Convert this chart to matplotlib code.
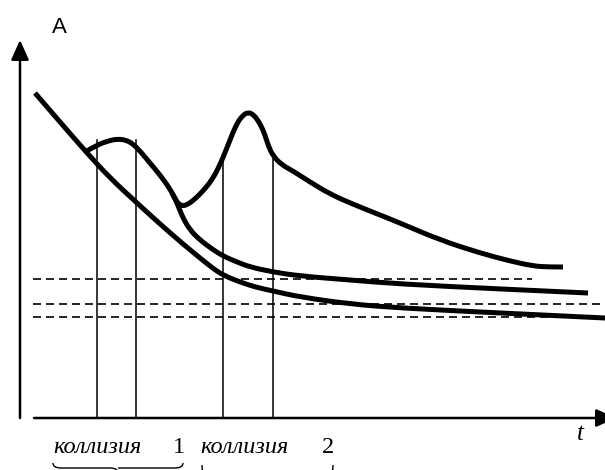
import matplotlib
matplotlib.use('Agg')
import matplotlib.pyplot as plt
from matplotlib.path import Path
from matplotlib.patches import PathPatch

# Lower curve (background decay)
t_low = [15, 40, 67, 90, 117, 140, 163, 180, 195, 205, 220, 235, 253, 280, 330, 380, 480, 585]
a_low = [325, 296, 265, 240, 215, 194, 174, 160, 148, 142, 136, 131, 127, 121, 114, 110, 105, 100]

# Middle curve (collision 1 bump, then decay)
t_mid = [65, 77, 88, 97, 106, 113, 120, 130, 140, 148, 154, 159, 163, 170, 180, 192, 203, 217, 230,
         253, 280, 330, 380, 480, 568]
a_mid = [266, 273, 277, 279, 278, 274, 267, 255, 243, 232, 222, 210, 200, 188, 178, 169, 162, 156, 151,
         146, 142, 138, 134, 129, 125]

# Upper curve (collision 2 peak)
t_up = [152, 156, 161, 167, 175, 183, 192, 200, 208, 216, 222, 228, 234, 239, 244, 248, 253, 262, 273,
        290, 310, 330, 355, 380, 420, 460, 490, 513, 528, 543]
a_up = [225, 217, 212, 213, 219, 227, 238, 253, 273, 293, 302, 306, 303, 296, 286, 273, 262, 253, 247,
        236, 224, 215, 205, 195, 178, 165, 157, 152, 151, 151]

# Collision boundaries
t_marks = [77, 116, 203, 253]
a_marks = [278, 278, 263, 261]

# Dashed levels
levels = [139, 114, 101]
level_end = [512, 585, 585]

fig = plt.figure(figsize=(6.05, 4.70), dpi=100)
ax = fig.add_axes([0, 0, 1, 1])
ax.set_xlim(-20, 585)
ax.set_ylim(-52, 418)
ax.axis('off')

# axes with arrows
arr = dict(arrowstyle='-|>,head_length=1.0,head_width=0.45', color='black', lw=1.8,
           mutation_scale=12, shrinkA=0, shrinkB=0)
ax.annotate('', xy=(0, 378), xytext=(0, 0), arrowprops=arr)
ax.annotate('', xy=(596, 0), xytext=(14, 0), arrowprops=arr, annotation_clip=False)

for lv, te in zip(levels, level_end):
    ax.plot([13, te], [lv, lv], color='black', lw=1.2, dashes=(4.8, 3))

for tm, am in zip(t_marks, a_marks):
    ax.plot([tm, tm], [0, am], color='black', lw=1.1)


def smooth_curve(tt, aa):
    # quadratic segments through midpoints, read points act as control points
    pts = list(zip(tt, aa))
    verts = [pts[0]]
    codes = [Path.MOVETO]
    for i in range(1, len(pts) - 1):
        mid = ((pts[i][0] + pts[i + 1][0]) / 2, (pts[i][1] + pts[i + 1][1]) / 2)
        if i == len(pts) - 2:
            mid = pts[-1]
        verts += [pts[i], mid]
        codes += [Path.CURVE3, Path.CURVE3]
    ax.add_patch(PathPatch(Path(verts, codes), fill=False, lw=3.6, color='black',
                           capstyle='butt', joinstyle='round'))


for tt, aa in [(t_low, a_low), (t_mid, a_mid), (t_up, a_up)]:
    smooth_curve(tt, aa)

ax.text(33, -35, 'коллизия', family='Liberation Serif', style='italic', fontsize=17.5)
ax.text(153, -35, '1', family='Liberation Serif', fontsize=17.5)
ax.text(180, -35, 'коллизия', family='Liberation Serif', style='italic', fontsize=17.5)
ax.text(302, -35, '2', family='Liberation Serif', fontsize=17.5)
ax.text(557, -22, 't', family='Liberation Serif', style='italic', fontsize=18)
ax.text(32, 385, 'A', family='Liberation Sans', fontsize=16)


def brace(t0, t1, top, depth):
    m = (t0 + t1) / 2
    v = [(t0, top), (t0, top - depth), (t0 + 8, top - depth),
         (m - 8, top - depth), (m, top - depth), (m, top - 2 * depth),
         (m, top - depth), (m + 8, top - depth),
         (t1 - 8, top - depth), (t1, top - depth), (t1, top)]
    c = [Path.MOVETO, Path.CURVE3, Path.CURVE3,
         Path.LINETO, Path.CURVE3, Path.CURVE3,
         Path.MOVETO, Path.LINETO,
         Path.LINETO, Path.CURVE3, Path.CURVE3]
    ax.add_patch(PathPatch(Path(v, c), fill=False, lw=1.0, color='black', clip_on=False))


brace(33, 163, -45, 5)
brace(182, 313, -47, 14)

fig.savefig('out.png', dpi=100)
